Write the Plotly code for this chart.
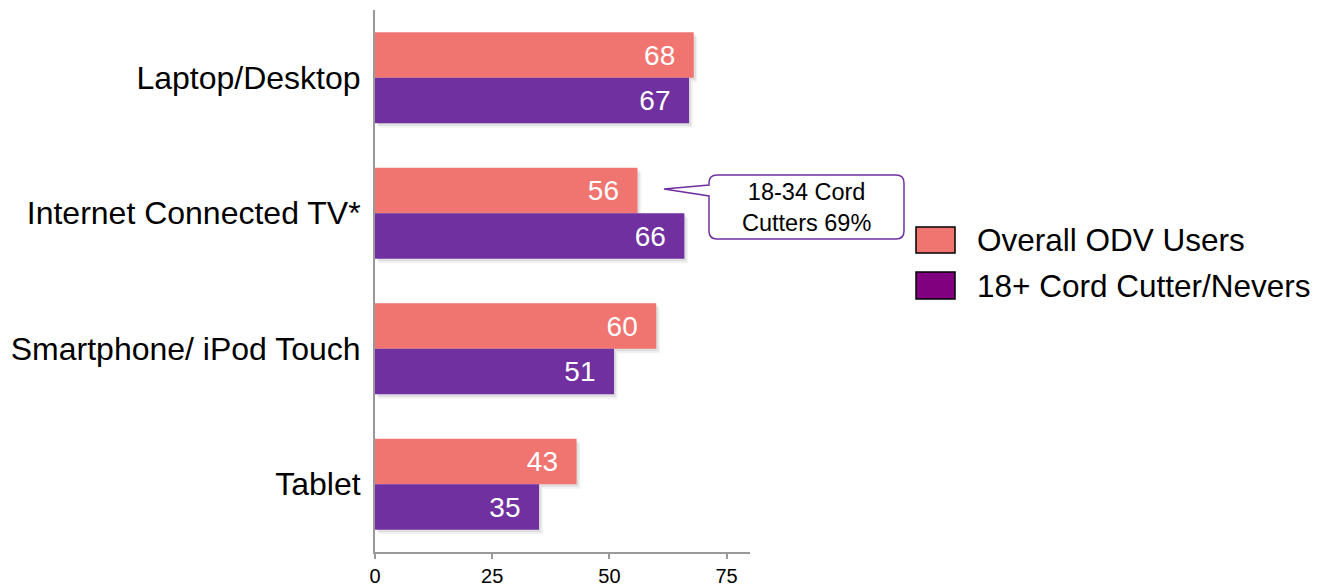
import plotly.graph_objects as go

categories = ["Laptop/Desktop", "Internet Connected TV*", "Smartphone/ iPod Touch", "Tablet"]
overall_odv = [68, 56, 60, 43]
cord_cutters = [67, 66, 51, 35]
series_names = ["Overall ODV Users", "18+ Cord Cutter/Nevers"]
bar_colors = ["#F07470", "#7030A0"]
legend_colors = ["#F07470", "#800080"]
x_ticks = [0, 25, 50, 75]
callout_text = "18-34 Cord<br>Cutters 69%"

FONT = "Liberation Sans, Arial, sans-serif"

W, H = 1318, 587
# plot area in screen pixels
L_S, R_S, T_S, B_S = 375, 750, 10, 552
PW, PH = R_S - L_S, B_S - T_S
BAND = PH / len(categories)
BAR_W = 45.5 / BAND  # bar thickness in category units

def px(x):
    return (x - L_S) / PW

def py(y):
    return (B_S - y) / PH

fig = go.Figure()

# soft drop shadows (two faint layers)
for dy, dx, alpha in [(4.5, 0.8, 0.05), (2.5, 0.45, 0.08)]:
    for vals, off in [(overall_odv, -BAR_W), (cord_cutters, 0.0)]:
        fig.add_trace(go.Bar(
            y=categories, x=vals, base=dx, orientation="h",
            offset=off + dy / BAND, width=BAR_W,
            marker=dict(color=f"rgba(0,0,0,{alpha})", line=dict(width=0)),
            hoverinfo="skip", showlegend=False,
        ))

for name, vals, col, off in zip(series_names, [overall_odv, cord_cutters], bar_colors,
                                [-BAR_W, 0.0]):
    fig.add_trace(go.Bar(
        y=categories, x=vals, name=name, orientation="h",
        offset=off, width=BAR_W,
        marker=dict(color=col, line=dict(width=0)),
        text=vals, texttemplate="%{x}\u00a0\u00a0",
        textposition="inside", insidetextanchor="end",
        textfont=dict(color="white", size=28, family=FONT),
        showlegend=False, cliponaxis=False,
    ))

# callout shape
Lx, Rx, Ty, By = px(709), px(904), py(175), py(239)
rx, ry = 8 / PW, 8 / PH
tipx, tipy = px(664), py(189)
pt, pb = py(185), py(196)
path = (f"M {Lx+rx},{Ty} L {Rx-rx},{Ty} Q {Rx},{Ty} {Rx},{Ty-ry} "
        f"L {Rx},{By+ry} Q {Rx},{By} {Rx-rx},{By} L {Lx+rx},{By} "
        f"Q {Lx},{By} {Lx},{By+ry} L {Lx},{pb} L {tipx},{tipy} L {Lx},{pt} "
        f"L {Lx},{Ty-ry} Q {Lx},{Ty} {Lx+rx},{Ty} Z")
shapes = [dict(type="path", path=path, xref="paper", yref="paper",
               fillcolor="white", line=dict(color="#7030A0", width=1.5))]
annotations = [dict(x=(Lx + Rx) / 2, y=(Ty + By) / 2, xref="paper", yref="paper",
                    xanchor="center", yanchor="middle",
                    text=callout_text, showarrow=False,
                    font=dict(size=23.5, color="black", family=FONT))]

# legend drawn as swatches + text
leg_rows = [(227, 253), (272, 299)]
for (y0, y1), name, col in zip(leg_rows, series_names, legend_colors):
    shapes.append(dict(type="rect", xref="paper", yref="paper",
                       x0=px(916), x1=px(955), y0=py(y1), y1=py(y0),
                       fillcolor=col, line=dict(color="black", width=1.5)))
    annotations.append(dict(x=px(975), y=py((y0 + y1) / 2), xref="paper", yref="paper",
                            xanchor="left", yanchor="middle", text=name, showarrow=False,
                            font=dict(size=31.5, color="black", family=FONT)))

fig.update_layout(
    width=W, height=H,
    margin=dict(l=L_S, r=W - R_S, t=T_S, b=H - B_S, pad=0, autoexpand=False),
    paper_bgcolor="white", plot_bgcolor="white",
    barmode="overlay",
    font=dict(family=FONT, color="black"),
    shapes=shapes, annotations=annotations,
    xaxis=dict(range=[0, 80], tickvals=x_ticks, showgrid=False, zeroline=False,
               automargin=False,
               showline=True, linecolor="#999999", linewidth=2,
               ticks="outside", ticklen=5, tickcolor="#999999", tickwidth=1.5,
               tickfont=dict(size=20, family=FONT, color="black"),
               ticklabelstandoff=0),
    yaxis=dict(autorange="reversed", showgrid=False, zeroline=False,
               automargin=False,
               showline=True, linecolor="#999999", linewidth=2,
               ticks="", tickfont=dict(size=32, family=FONT, color="black"),
               ticklabelstandoff=6),
)

fig.write_html(
    "out.html",
    config={"displayModeBar": False},
    post_script="document.body.style.margin='0';document.documentElement.style.overflow='hidden';",
)
